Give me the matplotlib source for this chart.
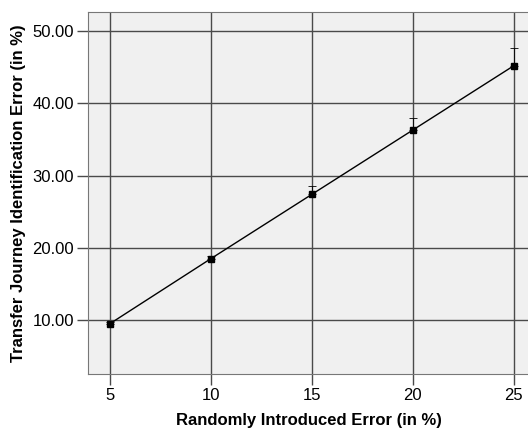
import matplotlib.pyplot as plt

plt.rcParams["font.family"] = ["Liberation Sans", "DejaVu Sans"]

introduced_error = [5, 10, 15, 20, 25]
identification_error = [9.5, 18.5, 27.4, 36.3, 45.2]
upper_err = [0.2, 0.3, 1.1, 1.6, 2.4]
lower_err = [0, 0, 0, 0, 0]
y_ticks = [10, 20, 30, 40, 50]

fig = plt.figure(figsize=(5.28, 4.32), dpi=100)
ax = fig.add_axes([88 / 528, 58 / 432, 441 / 528, 362 / 432])
ax.set_facecolor("#f0f0f0")

ax.errorbar(introduced_error, identification_error, yerr=[lower_err, upper_err],
            fmt="none", ecolor="black", elinewidth=0.6, capsize=3, capthick=0.6)
ax.plot(introduced_error, identification_error, color="black", linewidth=1,
        marker="s", markersize=5)

ax.set_xlim(3.91, 25.75)
ax.set_ylim(2.53, 52.63)
ax.set_xticks(introduced_error)
ax.set_yticks(y_ticks)
ax.set_yticklabels([f"{v:.2f}" for v in y_ticks])
ax.grid(True, color="#4a4a4a", linewidth=1)
ax.set_axisbelow(True)
ax.tick_params(length=8, width=1, color="#4a4a4a", labelsize=12, pad=2)
for s in ax.spines.values():
    s.set_color("#777777")

ax.set_xlabel("Randomly Introduced Error (in %)", fontsize=12, fontweight="bold", labelpad=7)
ax.set_ylabel("Transfer Journey Identification Error (in %)", fontsize=12, fontweight="bold", labelpad=5)

fig.savefig("out.png", dpi=100)
